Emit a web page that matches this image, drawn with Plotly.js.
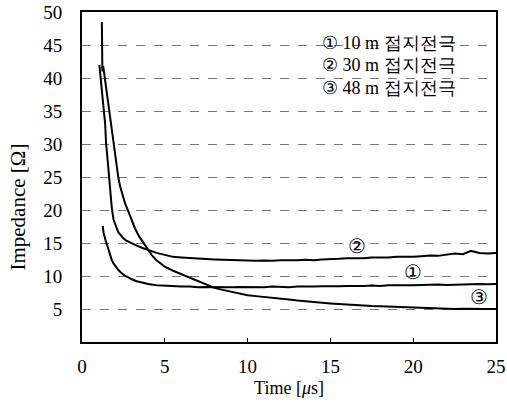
<!DOCTYPE html>
<html>
<head>
<meta charset="utf-8">
<script src="https://cdn.plot.ly/plotly-3.0.1.min.js"></script>
<style>html,body{margin:0;padding:0;background:#fff;}#chart{width:507px;height:404px;}</style>
</head>
<body>
<div id="chart"></div>
<script>
// Series names (legend text) and in-plot markers
const seriesNames = ["① 10 m 접지전극", "② 30 m 접지전극", "③ 48 m 접지전극"];
const seriesMarks = ["①", "②", "③"];
const xTitle = "Time [<i>μ</i>s]";
const yTitle = "Impedance [Ω]";

// ① 10 m
const time1 = [1.25,1.3,1.4,1.5,1.6,1.7,1.8,1.9,2.0,2.2,2.4,2.6,2.8,3.0,3.3,3.6,4.0,4.5,
  5.0,5.5,6.0,6.5,7.0,7.5,8.0,8.5,9.0,9.5,10,10.5,11,11.5,12,12.5,13,13.5,14,14.5,
  15,15.5,16,16.5,17,17.5,18,18.5,19,19.5,20,20.5,21,21.5,22,22.5,23,23.5,24,24.5,25];
const imp1 = [17.6,16.6,15.6,14.8,14.0,13.1,12.4,11.9,11.5,10.9,10.4,10.0,9.8,9.5,9.2,9.0,8.8,8.6,
  8.5,8.5,8.4,8.4,8.3,8.35,8.3,8.25,8.3,8.35,8.3,8.35,8.3,8.4,8.35,8.3,8.4,8.35,8.4,8.45,
  8.4,8.45,8.5,8.45,8.5,8.55,8.5,8.6,8.55,8.6,8.6,8.65,8.6,8.7,8.65,8.7,8.75,8.7,8.8,8.75,8.8];

// ② 30 m
const time2 = [1.05,1.15,1.3,1.4,1.45,1.55,1.63,1.72,1.8,1.9,2.0,2.1,2.2,2.35,2.5,2.65,2.8,3.0,3.3,3.7,4.1,4.5,
  5.0,5.5,6.0,6.5,7.0,7.5,8.0,8.5,9.0,9.5,10,10.5,11,11.5,12,12.5,13,13.5,14,14.5,
  15,15.5,16,16.5,17,17.5,18,18.5,19,19.5,20,20.5,21,21.5,22,22.5,23,23.5,24,24.5,25];
const imp2 = [42,39,35.5,33,30.2,27.5,25,22.5,20.3,18.6,17.8,17.2,16.6,16.1,15.7,15.4,15.2,15.0,14.6,14.2,13.8,13.5,
  13.2,12.9,12.8,12.7,12.6,12.6,12.5,12.45,12.4,12.4,12.35,12.3,12.35,12.3,12.4,12.35,12.4,12.45,12.4,12.5,
  12.5,12.6,12.7,12.65,12.7,12.8,12.75,12.8,12.9,12.85,12.9,13.0,13.1,13.05,13.2,13.4,13.3,13.8,13.5,13.4,13.5];

// ③ 48 m
const time3 = [1.2,1.21,1.23,1.28,1.35,1.45,1.55,1.65,1.75,1.9,2.05,2.2,2.3,2.45,2.6,2.8,3.0,3.2,3.45,3.7,3.95,4.2,4.5,4.8,
  5.0,5.5,6.0,6.5,7.0,7.5,8.0,8.5,9.0,9.5,10,10.5,11,11.5,12,12.5,13,13.5,14,14.5,
  15,15.5,16,16.5,17,17.5,18,18.5,19,19.5,20,20.5,21,21.5,22,22.5,23,23.5,24,24.5,25];
const imp3 = [48.5,44.5,41,41.8,40.5,38.8,37.3,35,33,30,27.5,24.8,23.6,22.4,21,19.8,18.6,17.2,16,15,14,13.2,12.4,11.8,
  11.4,10.8,10.3,9.8,9.2,8.7,8.2,7.9,7.6,7.35,7.1,6.95,6.85,6.7,6.6,6.45,6.3,6.15,6.0,5.95,
  5.85,5.75,5.65,5.6,5.5,5.45,5.4,5.35,5.3,5.25,5.2,5.15,5.1,5.1,5.05,5.0,5.05,5.0,4.95,5.0,5.0];

// Marker label locations (data coordinates)
const markX = [20, 16.6, 24];
const markY = [10.6, 14.5, 6.8];

// Axis ticks
const xTicks = [0, 5, 10, 15, 20, 25];
const yTicks = [5, 10, 15, 20, 25, 30, 35, 40, 45, 50];

const FONT = "Liberation Serif";
const times = [time1, time2, time3];
const imps = [imp1, imp2, imp3];

const traces = times.map((t, i) => ({
  x: t, y: imps[i], type: "scatter", mode: "lines",
  line: {color: "#000", width: 2}, name: seriesNames[i], hoverinfo: "skip"
}));

const annotations = [];
seriesNames.forEach((n, i) => {
  annotations.push({
    x: 14.4, y: [45.3, 41.9, 38.5][i], xref: "x", yref: "y",
    text: n, showarrow: false, xanchor: "left", yanchor: "middle",
    font: {family: FONT, size: 18, color: "#000"}
  });
});
seriesMarks.forEach((m, i) => {
  annotations.push({
    x: markX[i], y: markY[i], xref: "x", yref: "y",
    text: m, showarrow: false, xanchor: "center", yanchor: "middle",
    font: {family: FONT, size: 20, color: "#000"}
  });
});
// y-axis title placed like the reference (slightly below the plot centre)
annotations.push({
  x: -0.155, y: 0.41, xref: "paper", yref: "paper", text: yTitle, textangle: -90,
  showarrow: false, xanchor: "center", yanchor: "middle",
  font: {family: FONT, size: 21, color: "#000"}
});

const layout = {
  width: 507, height: 404,
  margin: {l: 82, r: 11, t: 12, b: 62},
  paper_bgcolor: "#fff", plot_bgcolor: "#fff",
  showlegend: false,
  font: {family: FONT, color: "#000", size: 19},
  xaxis: {
    range: [0, 25], tickvals: xTicks, ticks: "inside", ticklen: 4, tickcolor: "#000",
    showgrid: false, zeroline: false, showline: true, mirror: true, linecolor: "#000", linewidth: 2,
    tickfont: {family: FONT, size: 19, color: "#000"}, ticklabelstandoff: 6,
    title: {text: xTitle, font: {family: FONT, size: 18, color: "#000"}, standoff: 6}
  },
  yaxis: {
    range: [0, 50], tickvals: yTicks, ticks: "",
    showgrid: true, gridcolor: "#777", griddash: "dash", gridwidth: 1,
    zeroline: false, showline: true, mirror: true, linecolor: "#000", linewidth: 2,
    tickfont: {family: FONT, size: 19, color: "#000"}, ticklabelstandoff: 14
  },
  annotations: annotations
};

Plotly.newPlot("chart", traces, layout, {staticPlot: true, displayModeBar: false});
</script>
</body>
</html>
